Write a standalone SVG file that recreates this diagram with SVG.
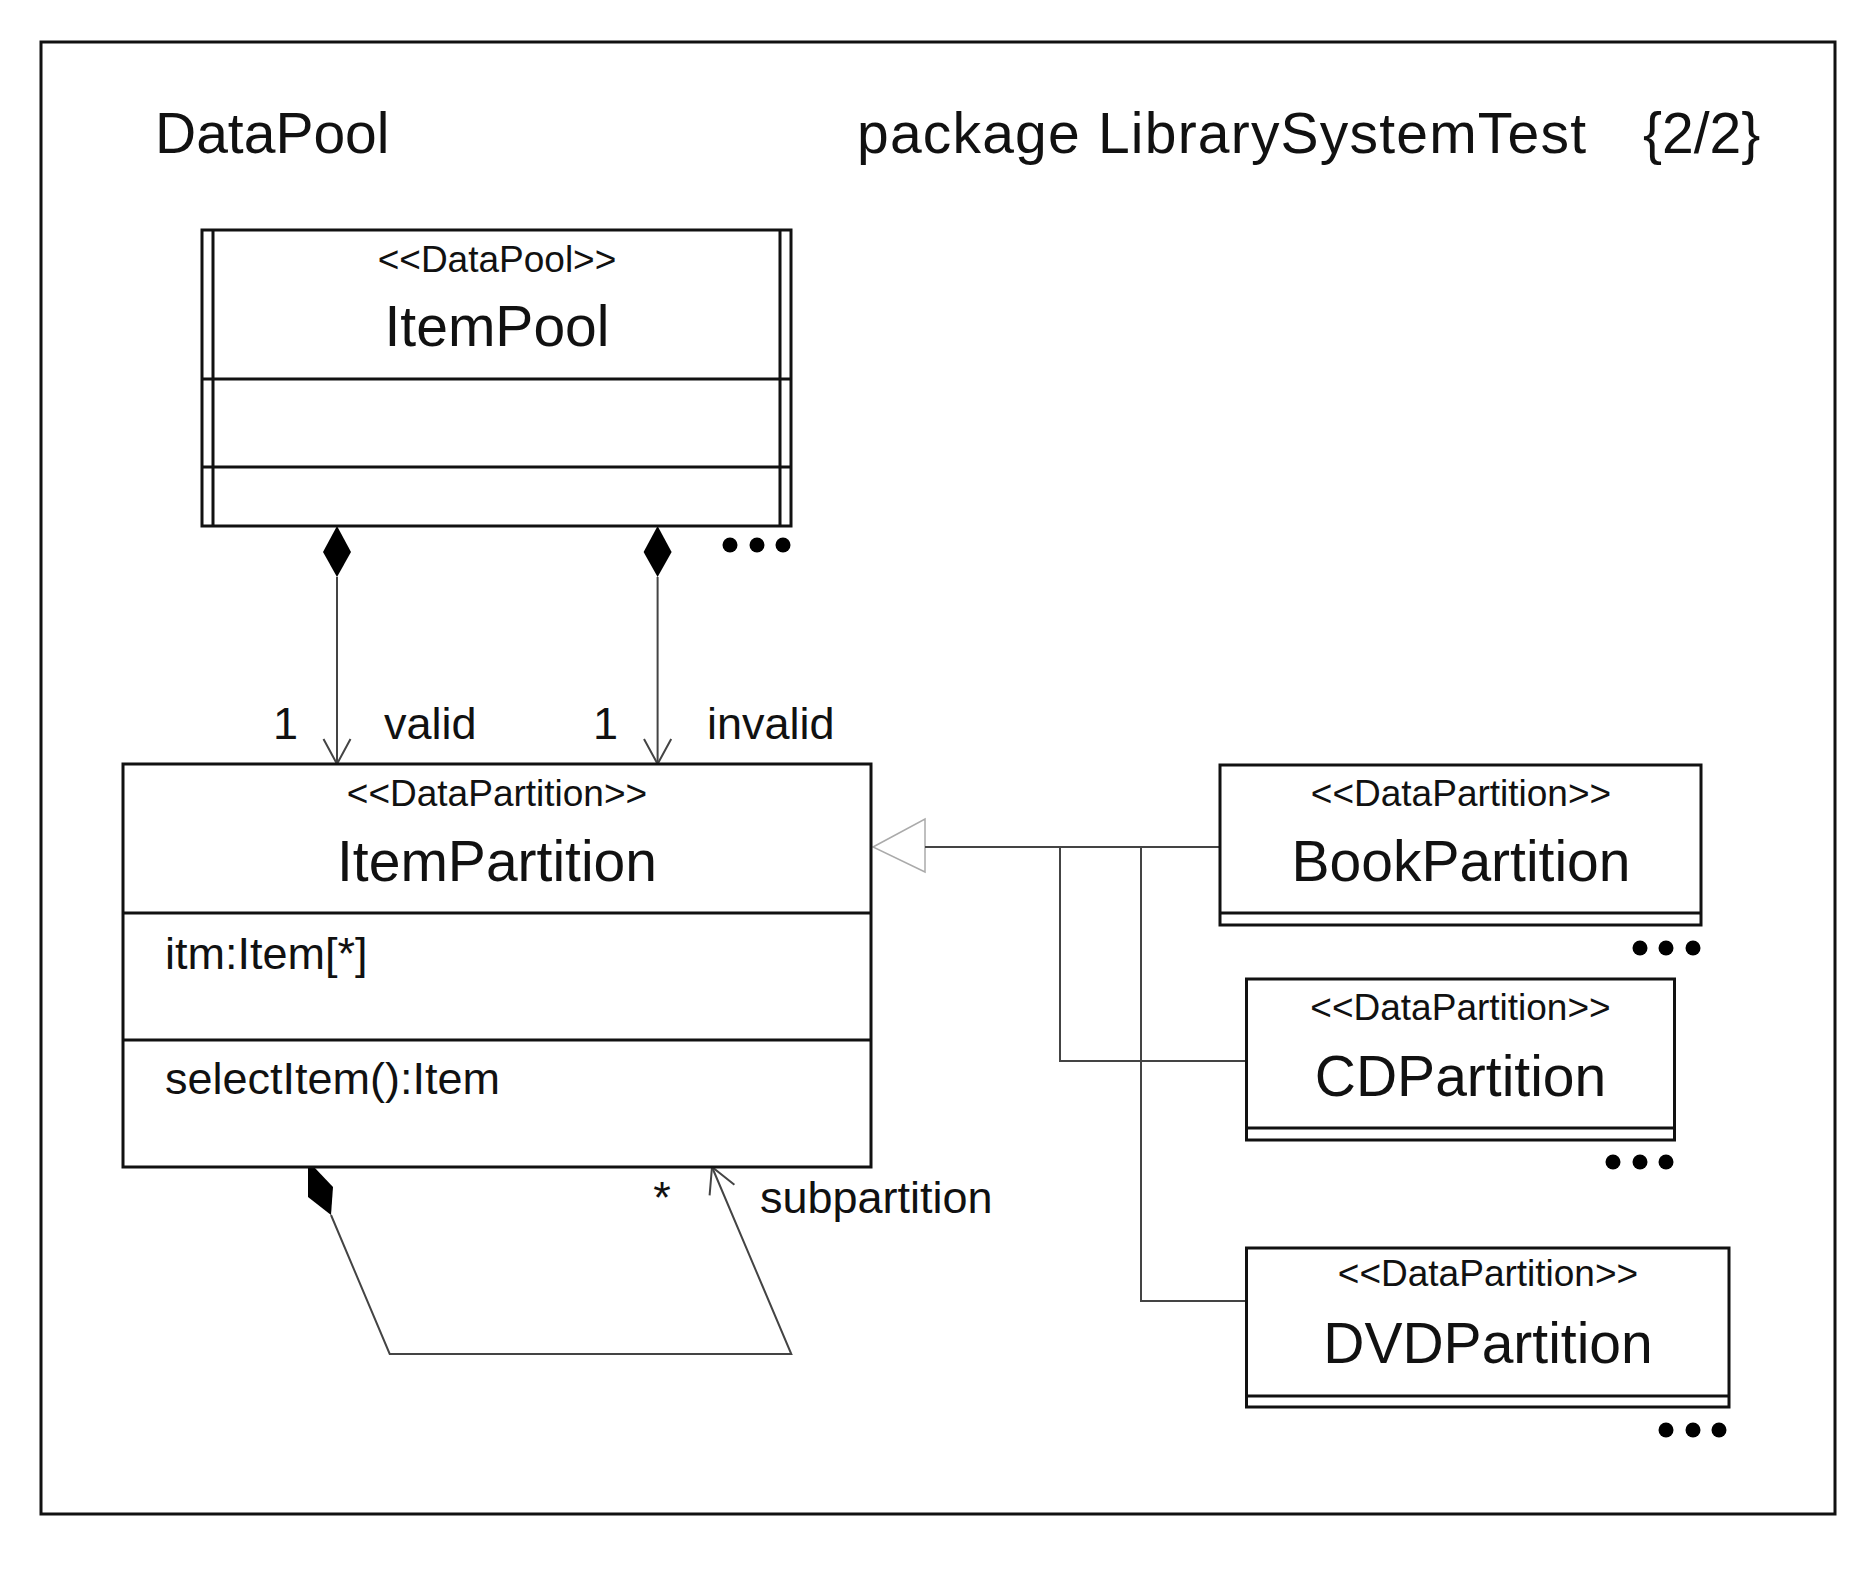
<svg xmlns="http://www.w3.org/2000/svg" width="1876" height="1572" viewBox="0 0 1876 1572">
<style>
text{font-family:"Liberation Sans",Arial,sans-serif;fill:#111}
.big{font-size:57px}
.st{font-size:37px;text-anchor:middle}
.nm{font-size:57px;text-anchor:middle}
.lb{font-size:45px}
.box{fill:#fff;stroke:#111;stroke-width:3}
.sep{stroke:#111;stroke-width:3}
.con{fill:none;stroke:#444;stroke-width:2}
.dot{fill:#000}
</style>
<rect x="41" y="42" width="1794" height="1472" fill="#fff" stroke="#111" stroke-width="3"/>
<text class="big" x="155" y="153">DataPool</text>
<text class="big" x="857" y="153" textLength="729">package LibrarySystemTest</text>
<text class="big" x="1643" y="153">{2/2}</text>
<g id="connectors">
<polygon points="337,526 351,552 337,577 323,552" fill="#000"/>
<line class="con" x1="337" y1="577" x2="337" y2="764"/>
<polyline class="con" points="323.5,739 337,764 350.5,739"/>
<polygon points="657.6,526 671.6,552 657.6,577 643.6,552" fill="#000"/>
<line class="con" x1="657.6" y1="577" x2="657.6" y2="764"/>
<polyline class="con" points="644,739 657.6,764 671.2,739"/>
<text class="lb" x="273" y="739">1</text>
<text class="lb" x="384" y="739">valid</text>
<text class="lb" x="593" y="739">1</text>
<text class="lb" x="707" y="739">invalid</text>
<polygon points="873,847 925,819 925,872" fill="#fff" stroke="#aaa" stroke-width="1.5"/>
<path class="con" d="M925,847 H1220 M1060,847 V1061 H1246.5 M1141,847 V1301 H1246.5" stroke-width="2.5"/>
<polygon points="308,1167 314,1167 333,1187 331,1215 308,1197" fill="#000"/>
<polyline class="con" points="331,1215 389.7,1354 791.3,1354 712,1167"/>
<polyline class="con" points="709.6,1195.3 712,1167 734.4,1184.7"/>
<text class="lb" x="662" y="1213" text-anchor="middle">*</text>
<text class="lb" x="760" y="1213">subpartition</text>
</g>
<g id="ItemPool">
<rect class="box" x="202" y="230" width="589" height="296"/>
<line class="sep" x1="213" y1="230" x2="213" y2="526"/>
<line class="sep" x1="780" y1="230" x2="780" y2="526"/>
<line class="sep" x1="202" y1="379" x2="791" y2="379"/>
<line class="sep" x1="202" y1="467" x2="791" y2="467"/>
<text class="st" x="497" y="272">&lt;&lt;DataPool&gt;&gt;</text>
<text class="nm" x="497" y="346">ItemPool</text>
<circle class="dot" cx="730" cy="545" r="7.5"/>
<circle class="dot" cx="757" cy="545" r="7.5"/>
<circle class="dot" cx="783" cy="545" r="7.5"/>
</g>
<g id="ItemPartition">
<rect class="box" x="123" y="764" width="748" height="403"/>
<line class="sep" x1="123" y1="913" x2="871" y2="913"/>
<line class="sep" x1="123" y1="1040" x2="871" y2="1040"/>
<text class="st" x="497" y="806">&lt;&lt;DataPartition&gt;&gt;</text>
<text class="nm" x="497" y="881">ItemPartition</text>
<text class="lb" x="165" y="969">itm:Item[*]</text>
<text class="lb" x="165" y="1094">selectItem():Item</text>
</g>
<g id="BookPartition">
<rect class="box" x="1220" y="765" width="481" height="160"/>
<line class="sep" x1="1220" y1="913" x2="1701" y2="913"/>
<text class="st" x="1461" y="806">&lt;&lt;DataPartition&gt;&gt;</text>
<text class="nm" x="1461" y="881">BookPartition</text>
<circle class="dot" cx="1640" cy="948" r="7.5"/>
<circle class="dot" cx="1666" cy="948" r="7.5"/>
<circle class="dot" cx="1693" cy="948" r="7.5"/>
</g>
<g id="CDPartition">
<rect class="box" x="1246.5" y="979" width="428" height="161"/>
<line class="sep" x1="1246.5" y1="1128" x2="1674.5" y2="1128"/>
<text class="st" x="1460.5" y="1020">&lt;&lt;DataPartition&gt;&gt;</text>
<text class="nm" x="1460.5" y="1096">CDPartition</text>
<circle class="dot" cx="1613" cy="1162" r="7.5"/>
<circle class="dot" cx="1640" cy="1162" r="7.5"/>
<circle class="dot" cx="1666" cy="1162" r="7.5"/>
</g>
<g id="DVDPartition">
<rect class="box" x="1246.5" y="1248" width="482.5" height="159"/>
<line class="sep" x1="1246.5" y1="1396" x2="1729" y2="1396"/>
<text class="st" x="1488" y="1286">&lt;&lt;DataPartition&gt;&gt;</text>
<text class="nm" x="1488" y="1363">DVDPartition</text>
<circle class="dot" cx="1666" cy="1430" r="7.5"/>
<circle class="dot" cx="1693" cy="1430" r="7.5"/>
<circle class="dot" cx="1719" cy="1430" r="7.5"/>
</g>
</svg>
